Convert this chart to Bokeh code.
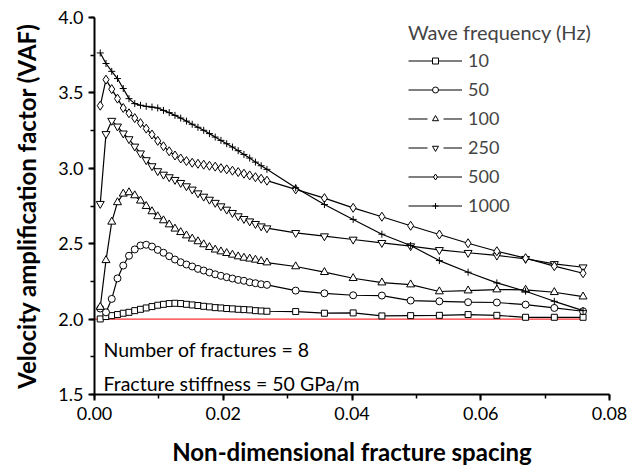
from bokeh.plotting import figure
from bokeh.models import (Legend, LegendItem, Range1d, NumeralTickFormatter,
                          SingleIntervalTicker, Label)
from bokeh.embed import file_html
from bokeh.resources import INLINE

# Non-dimensional fracture spacing (shared by every frequency curve)
spacing = [0.000893, 0.001786, 0.002679, 0.003571, 0.004464, 0.005357, 0.006250,
           0.007143, 0.008036, 0.008929, 0.009821, 0.010714, 0.011607, 0.012500,
           0.013393, 0.014286, 0.015179, 0.016071, 0.016964, 0.017857, 0.018750,
           0.019643, 0.020536, 0.021429, 0.022321, 0.023214, 0.024107, 0.025000,
           0.025893, 0.026786, 0.031250, 0.035714, 0.040179, 0.044643, 0.049107,
           0.053571, 0.058036, 0.062500, 0.066964, 0.071429, 0.075893]

# Velocity amplification factor for each wave frequency
vaf_10 = [2.001, 2.017, 2.023, 2.030, 2.039, 2.045, 2.056, 2.065, 2.074, 2.083,
          2.092, 2.098, 2.103, 2.105, 2.103, 2.098, 2.094, 2.090, 2.085, 2.081,
          2.076, 2.074, 2.070, 2.068, 2.065, 2.063, 2.061, 2.056, 2.054, 2.052,
          2.050, 2.039, 2.041, 2.021, 2.023, 2.025, 2.030, 2.025, 2.012, 2.012, 2.012]
vaf_50 = [2.070, 2.045, 2.134, 2.270, 2.355, 2.420, 2.462, 2.488, 2.493, 2.481,
          2.459, 2.440, 2.417, 2.395, 2.377, 2.362, 2.349, 2.333, 2.322, 2.309,
          2.297, 2.287, 2.278, 2.269, 2.260, 2.254, 2.244, 2.238, 2.231, 2.227,
          2.189, 2.171, 2.158, 2.156, 2.123, 2.118, 2.112, 2.110, 2.096, 2.074, 2.052]
vaf_100 = [2.080, 2.390, 2.645, 2.774, 2.831, 2.840, 2.820, 2.785, 2.749, 2.714,
           2.681, 2.654, 2.627, 2.599, 2.576, 2.554, 2.533, 2.515, 2.495, 2.477,
           2.460, 2.448, 2.437, 2.426, 2.415, 2.406, 2.400, 2.393, 2.384, 2.375,
           2.349, 2.311, 2.271, 2.242, 2.229, 2.183, 2.189, 2.196, 2.194, 2.178, 2.149]
vaf_250 = [2.765, 3.228, 3.316, 3.278, 3.232, 3.194, 3.145, 3.100, 3.055, 3.015,
           2.982, 2.959, 2.942, 2.924, 2.904, 2.882, 2.860, 2.835, 2.813, 2.793,
           2.772, 2.749, 2.727, 2.705, 2.683, 2.665, 2.649, 2.632, 2.616, 2.603,
           2.572, 2.550, 2.528, 2.506, 2.484, 2.459, 2.440, 2.422, 2.400, 2.366, 2.344]
vaf_500 = [3.415, 3.588, 3.525, 3.462, 3.400, 3.365, 3.333, 3.300, 3.263, 3.224,
           3.182, 3.146, 3.113, 3.085, 3.065, 3.048, 3.037, 3.030, 3.024, 3.017,
           3.011, 3.001, 2.993, 2.984, 2.975, 2.964, 2.953, 2.941, 2.931, 2.918,
           2.860, 2.802, 2.738, 2.679, 2.619, 2.561, 2.503, 2.450, 2.404, 2.351, 2.304]
vaf_1000 = [3.765, 3.695, 3.643, 3.595, 3.529, 3.462, 3.429, 3.418, 3.411, 3.406,
            3.400, 3.384, 3.369, 3.351, 3.333, 3.313, 3.292, 3.272, 3.252, 3.230,
            3.207, 3.185, 3.163, 3.141, 3.117, 3.092, 3.068, 3.041, 3.017, 2.993,
            2.871, 2.760, 2.661, 2.563, 2.488, 2.388, 2.311, 2.240, 2.185, 2.118, 2.056]

frequencies = ["10", "50", "100", "250", "500", "1000"]
series = [vaf_10, vaf_50, vaf_100, vaf_250, vaf_500, vaf_1000]
markers = ["square", "circle", "triangle", "inverted_triangle", "diamond", "cross"]
marker_sizes = [6, 7, 8, 8, 9, 7]
gapped_legend = {"100", "250"}

baseline_vaf = 2.0
notes = ["Number of fractures = 8", "Fracture stiffness = 50 GPa/m"]
note_levels = [1.797, 1.572]

FONT = "Lato"

p = figure(width=628, height=469, output_backend="svg", toolbar_location=None,
           x_range=Range1d(0, 0.08), y_range=Range1d(1.5, 4.0),
           min_border_left=94, min_border_right=19, min_border_top=17,
           min_border_bottom=75)
p.outline_line_color = None
p.grid.visible = False
p.background_fill_color = "white"
p.border_fill_color = "white"

# reference level VAF = 2
p.line([0, spacing[-1]], [baseline_vaf, baseline_vaf], line_color="red", line_width=1)

items = []
for freq, vals, mk, ms in zip(frequencies, series, markers, marker_sizes):
    ln = p.line(spacing, vals, line_color="black", line_width=1.2)
    pts = p.scatter(spacing, vals, marker=mk, size=ms, line_color="black",
                    line_width=1, fill_color="white")
    if freq in gapped_legend:
        key = p.line(spacing, vals, line_color="black", line_width=1.2,
                     line_dash="19 16", visible=False)
        items.append(LegendItem(label=freq, renderers=[key, pts]))
    else:
        items.append(LegendItem(label=freq, renderers=[ln, pts]))

legend = Legend(items=items, location=(314, 178), title="Wave frequency (Hz)",
                title_text_font=FONT, title_text_font_size="20px",
                title_text_font_style="normal", title_standoff=5,
                label_text_font=FONT, label_text_font_size="18px",
                glyph_width=54, glyph_height=15, label_height=20, spacing=7,
                label_standoff=6, padding=0, margin=0,
                border_line_color=None, background_fill_alpha=0)
p.add_layout(legend)

for txt, lvl in zip(notes, note_levels):
    p.add_layout(Label(x=0.0014, y=lvl, text=txt,
                       text_baseline="middle", text_font=FONT,
                       text_font_size="19.5px", text_color="black"))

p.xaxis.ticker = SingleIntervalTicker(interval=0.02, num_minor_ticks=2)
p.yaxis.ticker = SingleIntervalTicker(interval=0.5, num_minor_ticks=2)
p.xaxis.formatter = NumeralTickFormatter(format="0.00")
p.yaxis.formatter = NumeralTickFormatter(format="0.0")

p.xaxis.axis_label = "Non-dimensional fracture spacing"
p.yaxis.axis_label = "Velocity amplification factor (VAF)"
for ax in (p.xaxis, p.yaxis):
    ax.axis_line_width = 2
    ax.axis_line_color = "black"
    ax.major_tick_line_width = 2
    ax.minor_tick_line_width = 1.5
    ax.major_tick_out = 6
    ax.major_tick_in = 0
    ax.minor_tick_out = 4
    ax.minor_tick_in = 0
    ax.major_label_text_font = FONT
    ax.major_label_text_font_size = "18px"
    ax.major_label_text_color = "black"
    ax.axis_label_text_font = FONT
    ax.axis_label_text_font_size = "24px"
    ax.axis_label_text_font_style = "bold"
    ax.axis_label_text_color = "black"
p.xaxis.major_label_standoff = 6
p.yaxis.major_label_standoff = 5
p.xaxis.axis_label_standoff = 14
p.yaxis.axis_label_standoff = 14

open("out.html", "w").write(file_html(p, INLINE))
